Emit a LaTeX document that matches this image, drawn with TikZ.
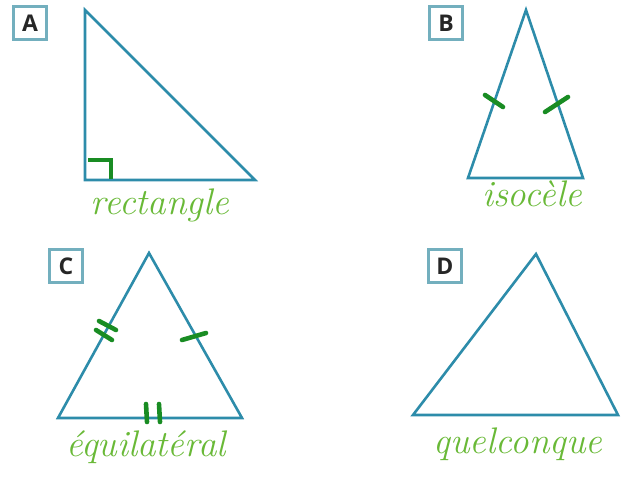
\documentclass[tikz,border=0pt]{standalone}
\usepackage{fontspec}
\setsansfont{Open Sans}
\usetikzlibrary{positioning, calc}

\definecolor{bleutri}{RGB}{45,140,170}
\definecolor{vertmarque}{RGB}{25,140,35}
\definecolor{vertnom}{RGB}{105,185,55}
\definecolor{bordlettre}{RGB}{115,175,190}

\begin{document}
\begin{tikzpicture}[
        x=1pt, y=-1pt,
        % --- styles ---
        triangle/.style={draw=bleutri, line width=2.6pt, line join=miter},
        marque/.style={draw=vertmarque, line width=4.6pt, line cap=round},
        lettre/.style={
            draw=bordlettre, line width=2.2pt,
            minimum size=33pt, inner sep=0pt,
            font=\sffamily\bfseries\fontsize{23}{23}\selectfont,
            text=black!85
        },
        nom/.style={anchor=base, text=vertnom,
            font=\itshape\fontsize{37}{37}\selectfont}
    ]
    \useasboundingbox (0,0) rectangle (624,481);

    % ==================== sommets ====================
    \coordinate (a1) at (85,10);   \coordinate (a2) at (85,180);  \coordinate (a3) at (255,180);
    \coordinate (b1) at (526,10);  \coordinate (b2) at (468,178); \coordinate (b3) at (583,178);
    \coordinate (c1) at (149,253); \coordinate (c2) at (58,418);  \coordinate (c3) at (242,418);
    \coordinate (d1) at (536,254); \coordinate (d2) at (413,415); \coordinate (d3) at (618,415);

    % ==================== triangles ====================
    \draw[triangle] (a1) -- (a2) -- (a3) -- cycle;
    \draw[triangle] (b1) -- (b2) -- (b3) -- cycle;
    \draw[triangle] (c1) -- (c2) -- (c3) -- cycle;
    \draw[triangle] (d1) -- (d2) -- (d3) -- cycle;

    % ==================== lettres ====================
    \node[lettre] (lettreA) at (30,23)   {A};
    \node[lettre] (lettreB) at (446,23)  {B};
    \node[lettre] (lettreC) at (66,266)  {C};
    \node[lettre] (lettreD) at (445,266) {D};

    % ==================== marques ====================
    % angle droit
    \draw[marque, line cap=butt] ($(a2)+(3,-20)$) -- ($(a2)+(26,-20)$) -- ($(a2)+(26,-1)$);
    % isocele
    \draw[marque] (485,95) -- (503,107);
    \draw[marque] (545,112) -- (568,97);
    % equilateral
    \draw[marque] (99,321) -- (116,330);
    \draw[marque] (96,330) -- (112,340);
    \draw[marque] (182,340) -- (206,333);
    \draw[marque] (146,404) -- (147,422);
    \draw[marque] (159,404) -- (160,422);

    % ==================== noms ====================
    \node[nom] (nomA) at (160,215) {rectangle};
    \node[nom] (nomB) at (532,207) {isocèle};
    \node[nom] (nomC) at (146,456) {équilatéral};
    \node[nom] (nomD) at (518,453) {quelconque};

\end{tikzpicture}
\end{document}
